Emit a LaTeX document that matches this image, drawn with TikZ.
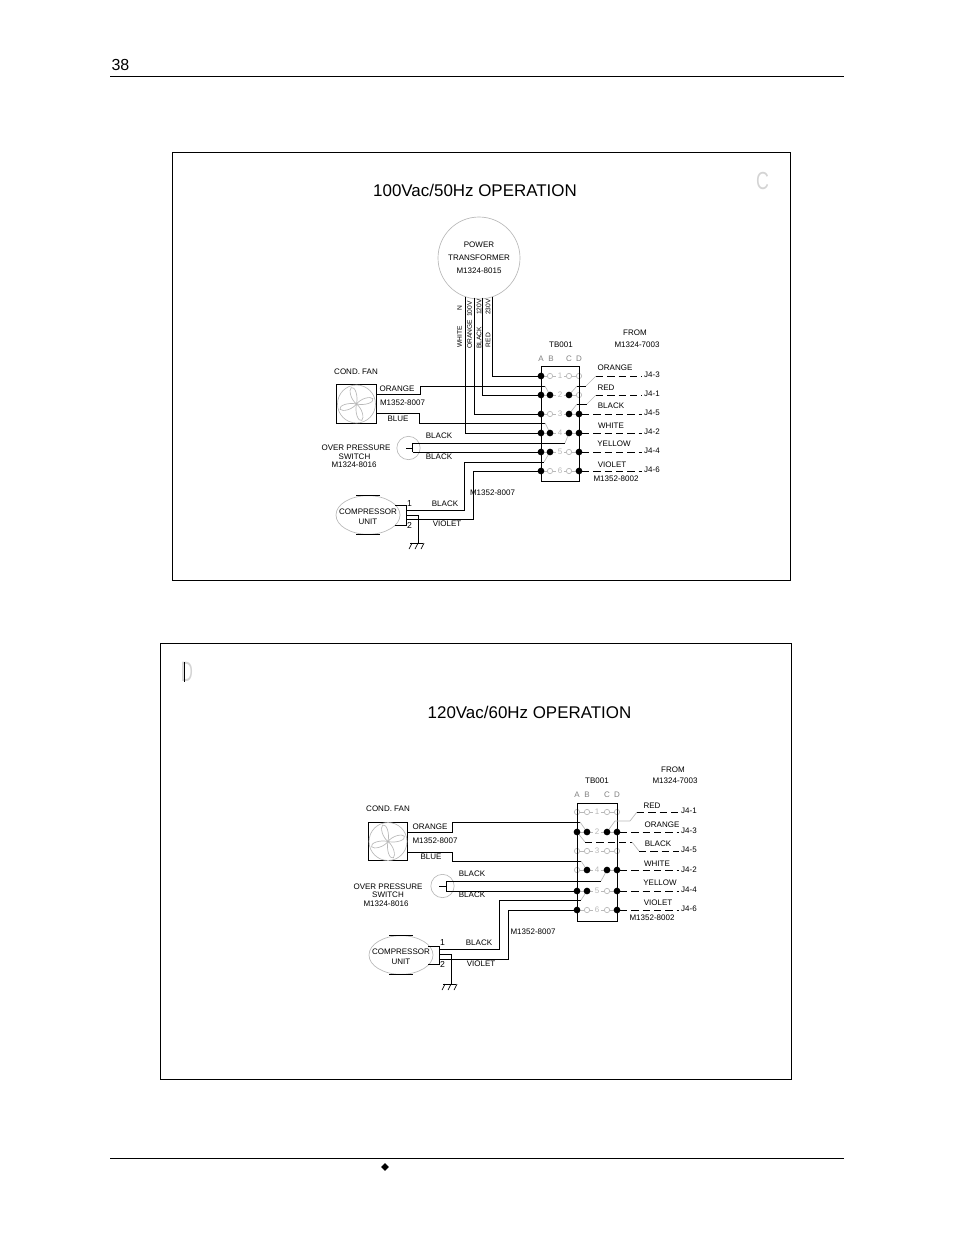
\documentclass[tikz,border=0pt]{standalone}
\usepackage{fontspec}
\setmainfont{Liberation Sans}
\usetikzlibrary{shapes.geometric, positioning}
\definecolor{mgray}{HTML}{B8B8B8}
\definecolor{mletter}{HTML}{D4D4D4}
\tikzstyle{lbl} = [font=\fontsize{6}{7}\selectfont, inner sep=0pt]
\tikzstyle{tap} = [font=\fontsize{5}{6}\selectfont, inner sep=0pt, rotate=90]
\tikzstyle{num} = [font=\fontsize{6}{7}\selectfont, inner sep=1pt, text=mgray]
\tikzstyle{jack} = [font=\fontsize{6}{7}\selectfont, inner sep=1.5pt]
\tikzstyle{title} = [font=\fontsize{12.7}{15}\selectfont, inner sep=0pt]
\tikzstyle{wire} = [line width=.75pt]
\tikzstyle{jumper} = [line width=.5pt, draw=mgray]
\tikzstyle{cable} = [line width=.75pt, dash pattern=on 5.5pt off 3pt]
\tikzstyle{terminal} = [circle, draw=mgray, line width=.5pt, fill=white, minimum size=4pt, inner sep=0pt]
\tikzstyle{dot} = [circle, fill=black, minimum size=5pt, inner sep=0pt]
\tikzstyle{fanbox} = [rectangle, draw, line width=.75pt, minimum width=29.5pt, minimum height=29pt, inner sep=0pt]
\tikzstyle{roundbox} = [circle, draw=mgray, line width=.5pt, inner sep=0pt]
\tikzstyle{compressor} = [ellipse, draw=mgray, line width=.5pt, minimum width=48pt, minimum height=29pt, inner sep=0pt]
\tikzset{
  fanwheel/.pic={
    \draw [jumper] (0,0) circle (19);
    \foreach \a in {8,98,188,278}
      \draw [jumper, rotate=\a] (0,0) .. controls (5,-5) and (15,-6) .. (17,-3) .. controls (18,1) and (8,3) .. (0,0);
  },
  groundmark/.pic={
    \draw [wire] (-8,0) -- (5,0);
    \foreach \s in {-6,0,6}
      \draw [line width=.5pt] (\s,0) -- ++(-3,6);
  }
}

\begin{document}
\begin{tikzpicture}[x=.75pt,y=-.75pt]
  \useasboundingbox (0,0) rectangle (954,1235);
  % page
  \node (page) [inner sep=0pt, font=\fontsize{12}{14}\selectfont] at (120.5,65) {38};
  \draw [wire] (110,76.5) -- (844,76.5);
  \draw [wire] (110,1158.5) -- (844,1158.5);
  \node (bullet) [diamond, fill=black, minimum size=6pt, inner sep=0pt] at (385,1167) {};

  % 100Vac panel
  \draw [wire] (172.5,152.5) rectangle (790,580);
  \node (titlec) [title] at (475,190) {100Vac/50Hz OPERATION};
  \node (letterc) [text=mletter, inner sep=0pt, xscale=.72, font=\fontsize{18.5}{20}\selectfont] at (762.5,181) {C};

  \node (xfmr) [roundbox, minimum size=61.5pt, align=center, font=\fontsize{6}{9.75}\selectfont] at (479,258) {POWER\\TRANSFORMER\\M1324-8015};
  \node (whitec) [tap] at (459.5,337) {WHITE};
  \node (nc) [tap] at (459.5,308) {N};
  \node (orangevc) [tap] at (469.5,334) {ORANGE};
  \node (v100c) [tap] at (469.5,309) {100V};
  \node (blackvc) [tap] at (479,338) {BLACK};
  \node (v120c) [tap] at (479,307) {120V};
  \node (redvc) [tap] at (488,340) {RED};
  \node (v230c) [tap] at (488,307) {230V};

  \node (tbc) [lbl] at (561,345) {TB001};
  \node (fromc) [lbl] at (635,333) {FROM};
  \node (srcc) [lbl] at (637,345) {M1324-7003};
  \foreach \col/\x in {A/541,B/551,C/569,D/579}
    \node (hc\col) [num, text=gray] at (\x,359) {\col};

  \foreach \row/\y in {1/376,2/395,3/414,4/433,5/452,6/471} {
    \foreach \col/\x in {A/541,B/550,C/569,D/579}
      \node (c\row\col) [terminal] at (\x,\y) {};
    \node (nc\row) [num] at (560,\y) {\row};
    \draw [jumper] (c\row A) -- (c\row B) -- (nc\row) -- (c\row C) -- (c\row D);
  }
  \draw [wire] (541,366) rectangle (579,481);

  % wires from the transformer
  \coordinate (tapn) at (465,296.5);
  \coordinate (tapo) at (474,297.5);
  \coordinate (tapb) at (482,297.5);
  \coordinate (tapr) at (492,296.5);
  \draw [wire] (tapr) |- (c1A);
  \draw [wire] (tapb) |- (c2A);
  \draw [wire] (tapo) |- (c3A);
  \draw [wire] (tapn) |- (c4A);

  % fan
  \node (fanc) [fanbox] at (356.5,404) {};
  \pic at (fanc) {fanwheel};
  \node (fanlblc) [lbl] at (356,372) {COND. FAN};
  \node (fanoc) [lbl] at (397,389) {ORANGE};
  \node (fanmc) [lbl] at (402.5,403) {M1352-8007};
  \node (fanbc) [lbl] at (398,419) {BLUE};
  \coordinate (foutc) at (376,394);
  \coordinate (fbendc) at (545,386);
  \coordinate (boutc) at (376,413);
  \coordinate (bbendc) at (545,423);
  \draw [wire] (foutc) -- ++(44,0) |- (fbendc);
  \draw [jumper] (fbendc) -- (c2B);
  \draw [wire] (boutc) -- ++(43,0) |- (bbendc);
  \draw [jumper] (bbendc) -- (c4B);

  % pressure switch
  \node (swc) [roundbox, minimum size=17.5pt] at (408.5,448) {};
  \node (swl1c) [lbl] at (356,448) {OVER PRESSURE};
  \node (swl2c) [lbl] at (354.5,457) {SWITCH};
  \node (swl3c) [lbl] at (354,465) {M1324-8016};
  \node (swb1c) [lbl] at (439,436) {BLACK};
  \node (swb2c) [lbl] at (439,457) {BLACK};
  \coordinate (swinc) at (406,448);
  \coordinate (swtc) at (412.5,443);
  \coordinate (swbc) at (412.5,452);
  \coordinate (swendc) at (565,443);
  \draw [wire] (swinc) -- (412.5,448);
  \draw [wire] (swtc) -- (swbc);
  \draw [wire] (swtc) -- (swendc);
  \draw [jumper] (swendc) -- (c4C);
  \draw [wire] (swbc) -- (c5A);

  % compressor
  \node (compc) [compressor] at (368,515) {};
  \node (comptc) [lbl] at (368,512) {COMPRESSOR};
  \node (compuc) [lbl] at (368,522) {UNIT};
  \draw [wire] (compc.north) ++(-12,0) -- ++(24,0);
  \draw [wire] (compc.south) ++(-12,0) -- ++(24,0);
  \coordinate (pin1c) at (395,505);
  \coordinate (pin2c) at (395,525);
  \draw [wire] (pin1c) -| (406,525) -- (pin2c);
  \node (one1c) [lbl, font=\fontsize{6.5}{7}\selectfont] at (409.5,503.5) {1};
  \node (two2c) [lbl, font=\fontsize{6.5}{7}\selectfont] at (409.5,525) {2};
  \node (cblkc) [lbl] at (445,504) {BLACK};
  \node (cvioc) [lbl] at (447,524) {VIOLET};
  \node (cmc) [lbl] at (492.5,493) {M1352-8007};
  \coordinate (cbendc) at (544,462);
  \draw [wire] (406,510) -- ++(58,0) |- (cbendc);
  \draw [jumper] (cbendc) -- (c5B);
  \draw [wire] (406,519) -- ++(67,0) |- (c6A);
  \coordinate (gndc) at (418,543);
  \draw [wire] (406,515) -| (gndc);
  \pic at (gndc) {groundmark};

  % right side
  \node (ororc) [lbl] at (615,368) {ORANGE};
  \node (orrdc) [lbl] at (606,388) {RED};
  \node (orbkc) [lbl] at (611,406) {BLACK};
  \node (orwtc) [lbl] at (611,426) {WHITE};
  \node (orylc) [lbl] at (614,444) {YELLOW};
  \node (orvlc) [lbl] at (612,465) {VIOLET};
  \node (outmc) [lbl] at (616,479) {M1352-8002};
  \node (j43c) [jack] at (652,375) {J4-3};
  \node (j41c) [jack] at (652,394) {J4-1};
  \node (j45c) [jack] at (652,413) {J4-5};
  \node (j42c) [jack] at (652,432) {J4-2};
  \node (j44c) [jack] at (652,451) {J4-4};
  \node (j46c) [jack] at (652,470) {J4-6};
  \coordinate (o1c) at (577,386);
  \coordinate (o2c) at (586,386);
  \coordinate (o3c) at (596,376);
  \draw [jumper] (c2C) -- (o1c);
  \draw [wire] (o1c) -- (o2c);
  \draw [jumper] (o2c) -- (o3c);
  \draw [cable] (o3c) -- (j43c.west |- o3c);
  \coordinate (r1c) at (577,404);
  \coordinate (r2c) at (587,404);
  \coordinate (r3c) at (596,395);
  \draw [jumper] (c3C) -- (r1c);
  \draw [wire] (r1c) -- (r2c);
  \draw [jumper] (r2c) -- (r3c);
  \draw [cable] (r3c) -- (j41c.west |- r3c);
  \draw [cable] (c3D) -- (j45c.west |- c3D);
  \draw [cable] (c4D) -- (j42c.west |- c4D);
  \draw [cable] (c5D) -- (j44c.west |- c5D);
  \draw [cable] (c6D) -- (j46c.west |- c6D);
  \foreach \t in {1A,2A,2B,2C,3A,3C,3D,4A,4B,4C,4D,5A,5B,5D,6A,6D}
    \node (fc\t) [dot] at (c\t) {};

  % 120Vac panel
  \draw [wire] (160.5,643.5) rectangle (791,1079);
  \node (titled) [title] at (529.5,712) {120Vac/60Hz OPERATION};
  \node (letterd) [text=mletter, inner sep=0pt, xscale=.6, font=\fontsize{21}{22}\selectfont] at (187,672) {D};
  \draw [wire] (184.5,662) -- (184.5,682);

  \node (tbd) [lbl] at (597,781) {TB001};
  \node (fromd) [lbl] at (673,770) {FROM};
  \node (srcd) [lbl] at (675,781) {M1324-7003};
  \foreach \col/\x in {A/577,B/587,C/607,D/617}
    \node (hd\col) [num, text=gray] at (\x,795) {\col};

  \foreach \row/\y in {1/812,2/832,3/851,4/870,5/891,6/910} {
    \foreach \col/\x in {A/577,B/587,C/607,D/617}
      \node (d\row\col) [terminal] at (\x,\y) {};
    \node (nd\row) [num] at (597,\y) {\row};
    \draw [jumper] (d\row A) -- (d\row B) -- (nd\row) -- (d\row C) -- (d\row D);
  }
  \draw [wire] (577,803) rectangle (617,921);

  % fan
  \node (fand) [fanbox] at (388,841.5) {};
  \pic at (fand) {fanwheel};
  \node (fanlbld) [lbl] at (388,809) {COND. FAN};
  \node (fanod) [lbl] at (430,827) {ORANGE};
  \node (fanmd) [lbl] at (435,841) {M1352-8007};
  \node (fanbd) [lbl] at (431,857) {BLUE};
  \coordinate (foutd) at (408,832);
  \coordinate (fbendd) at (580,822);
  \coordinate (boutd) at (408,852);
  \coordinate (bbendd) at (581,861);
  \draw [wire] (foutd) -- ++(44,0) |- (fbendd);
  \draw [jumper] (fbendd) -- (d2B);
  \draw [wire] (boutd) -- ++(44,0) |- (bbendd);
  \draw [jumper] (bbendd) -- (d4B);

  % pressure switch
  \node (swd) [roundbox, minimum size=17.5pt] at (442.5,886) {};
  \node (swl1d) [lbl] at (388,887) {OVER PRESSURE};
  \node (swl2d) [lbl] at (388,895) {SWITCH};
  \node (swl3d) [lbl] at (386,904) {M1324-8016};
  \node (swb1d) [lbl] at (472,874) {BLACK};
  \node (swb2d) [lbl] at (472,895) {BLACK};
  \coordinate (swind) at (439,886);
  \coordinate (swtd) at (446,881);
  \coordinate (swbd) at (446,891);
  \coordinate (swendd) at (601,881);
  \draw [wire] (swind) -- (446,886);
  \draw [wire] (swtd) -- (swbd);
  \draw [wire] (swtd) -- (swendd);
  \draw [jumper] (swendd) -- (d4C);
  \draw [wire] (swbd) -- (d5A);

  % compressor
  \node (compd) [compressor] at (401,955) {};
  \node (comptd) [lbl] at (401,952) {COMPRESSOR};
  \node (compud) [lbl] at (401,962) {UNIT};
  \draw [wire] (compd.north) ++(-12,0) -- ++(24,0);
  \draw [wire] (compd.south) ++(-12,0) -- ++(24,0);
  \coordinate (pin1d) at (428,946);
  \coordinate (pin2d) at (428,964);
  \draw [wire] (pin1d) -| (439,964) -- (pin2d);
  \node (one1d) [lbl, font=\fontsize{6.5}{7}\selectfont] at (442.5,943) {1};
  \node (two2d) [lbl, font=\fontsize{6.5}{7}\selectfont] at (442.5,964) {2};
  \node (cblkd) [lbl] at (479,943) {BLACK};
  \node (cviod) [lbl] at (481,964) {VIOLET};
  \node (cmd) [lbl] at (533,932) {M1352-8007};
  \coordinate (cbendd) at (581,900);
  \draw [wire] (439,949) -- ++(60,0) |- (cbendd);
  \draw [jumper] (cbendd) -- (d5B);
  \draw [wire] (439,959) -- ++(69,0) |- (d6A);
  \coordinate (gndd) at (451,984);
  \draw [wire] (439,954) -| (gndd);
  \pic at (gndd) {groundmark};

  % right side
  \node (orrdd) [lbl] at (652,806) {RED};
  \node (orord) [lbl] at (662,825) {ORANGE};
  \node (orbkd) [lbl] at (658,844) {BLACK};
  \node (orwtd) [lbl] at (657,864) {WHITE};
  \node (oryld) [lbl] at (660,883) {YELLOW};
  \node (orvld) [lbl] at (658,903) {VIOLET};
  \node (outmd) [lbl] at (652,918) {M1352-8002};
  \node (j41d) [jack] at (689,811) {J4-1};
  \node (j43d) [jack] at (689,831) {J4-3};
  \node (j45d) [jack] at (689,850) {J4-5};
  \node (j42d) [jack] at (689,870) {J4-2};
  \node (j44d) [jack] at (689,890) {J4-4};
  \node (j46d) [jack] at (689,909) {J4-6};
  \coordinate (r1d) at (615,821);
  \coordinate (r2d) at (630,821);
  \coordinate (r3d) at (637,812);
  \draw [jumper] (d2C) -- (r1d) -- (r2d) -- (r3d);
  \draw [cable] (r3d) -- (j41d.west |- r3d);
  \draw [cable] (d2D) -- (j43d.west |- d2D);
  \coordinate (k1d) at (585,842);
  \coordinate (k2d) at (632,842);
  \coordinate (k3d) at (639,851);
  \draw [jumper] (d2A) -- (k1d);
  \draw [cable] (k1d) -- (k2d);
  \draw [jumper] (k2d) -- (k3d);
  \draw [cable] (k3d) -- (j45d.west |- k3d);
  \draw [cable] (d4D) -- (j42d.west |- d4D);
  \draw [cable] (d5D) -- (j44d.west |- d5D);
  \draw [cable] (d6D) -- (j46d.west |- d6D);
  \foreach \t in {2A,2B,2C,2D,4B,4C,4D,5A,5B,5D,6A,6D}
    \node (fd\t) [dot] at (d\t) {};
\end{tikzpicture}
\end{document}
